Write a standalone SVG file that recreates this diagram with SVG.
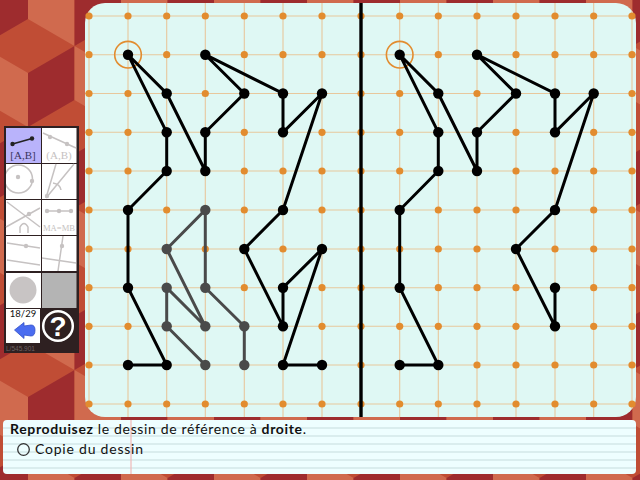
<svg xmlns="http://www.w3.org/2000/svg" xmlns:xlink="http://www.w3.org/1999/xlink" width="640" height="480" viewBox="0 0 640 480">
<style>
text{font-family:"Lato","Liberation Sans",sans-serif}
.g{stroke:#e8c79c;stroke-width:1.1;fill:none}
.d{fill:#e28c2f}
.e{stroke:#000;stroke-width:3;fill:none;stroke-linecap:round}
.eg{stroke:#4a4a4a;stroke-width:3;fill:none;stroke-linecap:round}
.n{fill:#000}
.ng{fill:#4a4a4a}
.cell{fill:#fff}
.t{stroke:#c6c2c2;stroke-width:1.5;fill:none}
.td{fill:#c6c2c2}
.s{font-family:"Liberation Serif",serif;font-size:11px;text-anchor:middle}
.l{stroke:#d4e7e9;stroke-width:1.5}
</style>
<defs>
<pattern id="cubes" patternUnits="userSpaceOnUse" x="28" y="73" width="93" height="162">
<rect width="93" height="162" fill="#c04d35"/>
<polygon points="0,0 46.5,-27 46.5,27 0,54" fill="#9e2c2e"/>
<polygon points="93,0 46.5,-27 46.5,27 93,54" fill="#d06a4e"/>
<polygon points="0,54 46.5,81 46.5,135 0,108" fill="#d06a4e"/>
<polygon points="93,54 46.5,81 46.5,135 93,108" fill="#9e2c2e"/>
<polygon points="0,162 46.5,135 46.5,189 0,216" fill="#9e2c2e"/>
<polygon points="93,162 46.5,135 46.5,189 93,216" fill="#d06a4e"/>
</pattern>
<clipPath id="board"><rect x="85" y="3" width="551" height="414" rx="20"/></clipPath>
<clipPath id="cell3"><rect x="6" y="164" width="35" height="35"/></clipPath>
<circle id="p" r="5.2"/>
<circle id="o" r="3.6"/>
</defs>
<rect id="background" width="640" height="480" fill="url(#cubes)"/>
<g id="board-area">
<rect x="85" y="3" width="551" height="414" rx="20" fill="#dff8f4"/>
<g clip-path="url(#board)">
<path class="g" d="M89 3V417M128 3V417M166.7 3V417M205.3 3V417M244.3 3V417M283 3V417M322 3V417M399.7 3V417M438.3 3V417M477 3V417M516 3V417M555 3V417M593.7 3V417M632 3V417"/>
<path class="g" d="M85 16H636M85 54.7H636M85 93.5H636M85 132.3H636M85 171H636M85 210H636M85 249H636M85 287.7H636M85 326.3H636M85 365H636M85 404H636"/>
</g>
<g class="d" id="grid-dots">
<g id="r0"><use xlink:href="#o" x="89" y="16"/><use xlink:href="#o" x="128" y="16"/><use xlink:href="#o" x="166.7" y="16"/><use xlink:href="#o" x="205.3" y="16"/><use xlink:href="#o" x="244.3" y="16"/><use xlink:href="#o" x="283" y="16"/><use xlink:href="#o" x="322" y="16"/><use xlink:href="#o" x="361" y="16"/><use xlink:href="#o" x="399.7" y="16"/><use xlink:href="#o" x="438.3" y="16"/><use xlink:href="#o" x="477" y="16"/><use xlink:href="#o" x="516" y="16"/><use xlink:href="#o" x="555" y="16"/><use xlink:href="#o" x="593.7" y="16"/><use xlink:href="#o" x="632" y="16"/></g>
<use xlink:href="#r0" y="38.7"/>
<use xlink:href="#r0" y="77.5"/>
<use xlink:href="#r0" y="116.3"/>
<use xlink:href="#r0" y="155"/>
<use xlink:href="#r0" y="194"/>
<use xlink:href="#r0" y="233"/>
<use xlink:href="#r0" y="271.7"/>
<use xlink:href="#r0" y="310.3"/>
<use xlink:href="#r0" y="349"/>
<use xlink:href="#r0" y="388"/>
</g>
<path d="M361 3V417" stroke="#000" stroke-width="3.4"/>
<circle id="ring-left" cx="128" cy="54.7" r="13.3" fill="none" stroke="#e28c2f" stroke-width="1.6"/>
<circle id="ring-right" cx="399.7" cy="54.7" r="13.3" fill="none" stroke="#e28c2f" stroke-width="1.6"/>
</g>
<g id="connectors">
<path class="e" d="M166.7 132.3V171L128 210V287.7L166.7 365H128"/>
<path class="e" d="M166.7 132.3L128 54.7L166.7 93.5L205.3 171V132.3L244.3 93.5L205.3 54.7L283 93.5V132.3L322 93.5L283 210L244.3 249L283 326.3V287.7L322 249L283 365H322"/>
<path class="eg" d="M166.7 326.3V287.7L205.3 326.3L166.7 249L205.3 210V287.7L244.3 326.3V365"/>
<path class="eg" d="M166.7 326.3L205.3 365"/>
<path class="e" d="M438.3 132.3V171L399.7 210V287.7L438.3 365H399.7"/>
<path class="e" d="M438.3 132.3L399.7 54.7L438.3 93.5L477 171V132.3L516 93.5L477 54.7L555 93.5V132.3L593.7 93.5L555 210L516 249L555 326.3V287.7"/>
</g>
<g id="nodes-left" class="n">
<use xlink:href="#p" x="128" y="54.7"/><use xlink:href="#p" x="166.7" y="93.5"/><use xlink:href="#p" x="166.7" y="132.3"/><use xlink:href="#p" x="166.7" y="171"/><use xlink:href="#p" x="128" y="210"/><use xlink:href="#p" x="128" y="287.7"/><use xlink:href="#p" x="128" y="365"/><use xlink:href="#p" x="166.7" y="365"/><use xlink:href="#p" x="205.3" y="54.7"/><use xlink:href="#p" x="205.3" y="132.3"/><use xlink:href="#p" x="205.3" y="171"/><use xlink:href="#p" x="244.3" y="93.5"/><use xlink:href="#p" x="283" y="93.5"/><use xlink:href="#p" x="283" y="132.3"/><use xlink:href="#p" x="322" y="93.5"/><use xlink:href="#p" x="283" y="210"/><use xlink:href="#p" x="244.3" y="249"/><use xlink:href="#p" x="283" y="287.7"/><use xlink:href="#p" x="283" y="326.3"/><use xlink:href="#p" x="322" y="249"/><use xlink:href="#p" x="283" y="365"/><use xlink:href="#p" x="322" y="365"/>
</g>
<g id="nodes-grey" class="ng">
<use xlink:href="#p" x="205.3" y="210"/><use xlink:href="#p" x="166.7" y="249"/><use xlink:href="#p" x="166.7" y="287.7"/><use xlink:href="#p" x="166.7" y="326.3"/><use xlink:href="#p" x="205.3" y="287.7"/><use xlink:href="#p" x="205.3" y="326.3"/><use xlink:href="#p" x="205.3" y="365"/><use xlink:href="#p" x="244.3" y="326.3"/><use xlink:href="#p" x="244.3" y="365"/>
</g>
<g id="nodes-right" class="n">
<use xlink:href="#p" x="399.7" y="54.7"/><use xlink:href="#p" x="438.3" y="93.5"/><use xlink:href="#p" x="438.3" y="132.3"/><use xlink:href="#p" x="438.3" y="171"/><use xlink:href="#p" x="399.7" y="210"/><use xlink:href="#p" x="399.7" y="287.7"/><use xlink:href="#p" x="399.7" y="365"/><use xlink:href="#p" x="438.3" y="365"/><use xlink:href="#p" x="477" y="54.7"/><use xlink:href="#p" x="477" y="132.3"/><use xlink:href="#p" x="477" y="171"/><use xlink:href="#p" x="516" y="93.5"/><use xlink:href="#p" x="555" y="93.5"/><use xlink:href="#p" x="555" y="132.3"/><use xlink:href="#p" x="593.7" y="93.5"/><use xlink:href="#p" x="555" y="210"/><use xlink:href="#p" x="516" y="249"/><use xlink:href="#p" x="555" y="287.7"/><use xlink:href="#p" x="555" y="326.3"/>
</g>
<g id="toolbar">
<rect x="4" y="126" width="75" height="227" fill="#2e2021"/>
<rect x="6" y="128" width="35" height="35" fill="#b9b3fb"/>
<path d="M12.5 144L32 138.5" stroke="#222" stroke-width="1.6"/><circle cx="12.5" cy="144" r="2.2" fill="#222"/><circle cx="32" cy="138.5" r="2.2" fill="#222"/>
<text class="s" x="23" y="159" fill="#3a3560">[A,B]</text>
<rect class="cell" x="42" y="128" width="34.5" height="35"/>
<path class="t" d="M43 133L76 148"/><circle class="td" cx="50" cy="137" r="2.2"/><circle class="td" cx="67" cy="144" r="2.2"/>
<text class="s" x="59" y="159" fill="#c6c2c2">(A,B)</text>
<rect class="cell" x="6" y="164" width="35" height="35"/>
<g clip-path="url(#cell3)"><circle class="t" cx="18.5" cy="179" r="14"/></g><circle class="td" cx="18" cy="177" r="2.2"/><circle class="td" cx="32" cy="181" r="2.2"/>
<rect class="cell" x="42" y="164" width="34.5" height="35"/>
<path class="t" d="M46 198L74 164M46 198L56 164M53 183Q60 184 61 190"/><circle class="td" cx="47" cy="196" r="2.2"/>
<rect class="cell" x="6" y="200" width="35" height="35"/>
<path class="t" d="M7 202L40 227M6 227L40 208"/><circle class="td" cx="29" cy="214" r="2.2"/>
<path class="t" d="M20 233V227Q24 220 28 227V233"/>
<rect class="cell" x="42" y="200" width="34.5" height="35"/>
<path class="t" d="M45 211H73"/><circle class="td" cx="47" cy="211" r="2.2"/><circle class="td" cx="59" cy="211" r="2.2"/><circle class="td" cx="71" cy="211" r="2.2"/>
<text x="43" y="231" font-size="8.5" fill="#c6c2c2" textLength="32" lengthAdjust="spacingAndGlyphs" style="font-family:'Liberation Serif',serif">MA=MB</text>
<rect class="cell" x="6" y="236" width="35" height="35"/>
<path class="t" d="M7 243L40 248M7 260L40 265"/><circle class="td" cx="26" cy="246" r="2.2"/>
<rect class="cell" x="42" y="236" width="34.5" height="35"/>
<path class="t" d="M42 258L76 263M63 236L58 271"/><circle class="td" cx="62" cy="246" r="2.2"/>
<rect class="cell" x="6" y="273" width="35" height="35"/>
<circle cx="23" cy="290" r="13.5" fill="#c8c4c4"/>
<rect x="42" y="273" width="34.5" height="35" fill="#b4b4b4"/>
<rect class="cell" x="6" y="309" width="34" height="34"/>
<text x="23" y="317" font-size="9.5" text-anchor="middle" fill="#111">18/29</text>
<path d="M14.5 330L24 322.5V326L31 325Q35 325 35 330Q35 336 31 336L24 335V338.5Z" fill="#4a6cf0" stroke="#3350c8" stroke-width="0.8"/>
<circle cx="58" cy="326" r="14.8" fill="none" stroke="#fff" stroke-width="2.5"/>
<text x="58" y="336" font-size="28" font-weight="bold" text-anchor="middle" fill="#fff" style="font-family:'Liberation Sans',sans-serif">?</text>
<text x="6" y="351" font-size="6.5" fill="#6f6263" style="font-family:'Liberation Sans',sans-serif">L/545.901</text>
</g>
<g id="instruction">
<rect x="3" y="420" width="633" height="54" rx="4" fill="#eefeff"/>
<path class="l" d="M3 428H636M3 436H636M3 444H636M3 452H636M3 460H636M3 468H636"/>
<path d="M131 420V474" stroke="#f0b8b8" stroke-width="1.2"/>
<text x="10" y="434" font-size="14" fill="#111" textLength="296" lengthAdjust="spacing"><tspan font-weight="bold">Reproduisez</tspan> le dessin de référence à <tspan font-weight="bold">droite</tspan>.</text>
<circle cx="23.5" cy="449.5" r="5.8" fill="none" stroke="#333" stroke-width="1.3"/>
<text x="35" y="454" font-size="14" fill="#111" textLength="108" lengthAdjust="spacing">Copie du dessin</text>
</g>
</svg>
